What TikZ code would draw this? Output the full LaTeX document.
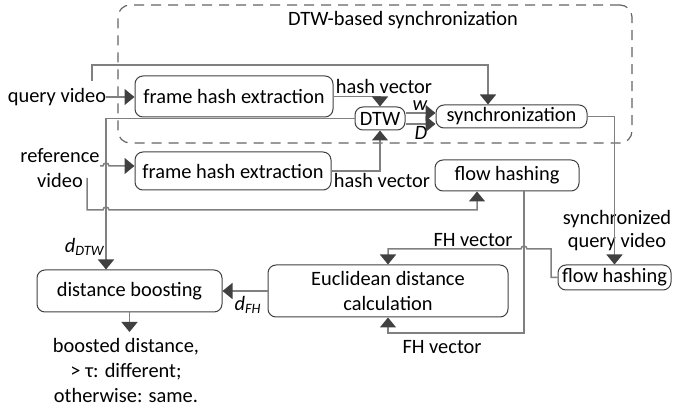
\documentclass[tikz,border=0pt]{standalone}
\usepackage{fontspec}
\setmainfont{Carlito}
\usetikzlibrary{arrows.meta}
\definecolor{linec}{RGB}{128,128,128}
\definecolor{tipc}{RGB}{64,64,64}
\definecolor{boxc}{RGB}{64,64,64}
\definecolor{dashc}{RGB}{100,100,100}
\begin{document}
\begin{tikzpicture}[x=0.5pt,y=0.5pt,
 font=\fontsize{10.2}{12.5}\selectfont,
 box/.style={draw=boxc,line width=0.5pt,rounded corners=4pt,inner sep=0pt,align=center},
 conn/.style={draw=linec,line width=0.75pt},
 arr/.style={conn,-{Triangle[width=8pt,length=5pt,color=tipc,fill=tipc]}},
 lab/.style={inner sep=0pt,align=center}]
\useasboundingbox (0,0) rectangle (676,-406);
% container
\node[draw=dashc,line width=0.6pt,dash pattern=on 5pt off 3.5pt,rounded corners=6pt,
      minimum width=257pt,minimum height=69pt,inner sep=0pt] (cont) at (375,-74) {};
\node[lab] (title) at (403,-20) {DTW-based synchronization};
% boxes
\node[box,minimum width=99pt,minimum height=20.5pt] (fh1) at (234,-96.5) {frame hash extraction};
\node[box,minimum width=98pt,minimum height=19pt] (fh2) at (233,-171) {frame hash extraction};
\node[box,minimum width=25pt,minimum height=11.5pt] (dtw) at (380,-118.5) {DTW};
\node[box,minimum width=75.5pt,minimum height=11.5pt] (sync) at (511.5,-116.5) {synchronization};
\node[box,minimum width=72pt,minimum height=15.5pt] (fl1) at (507,-175.5) {flow hashing};
\node[box,minimum width=56.5pt,minimum height=12.5pt] (fl2) at (614.5,-277.5) {flow hashing};
\node[box,minimum width=120pt,minimum height=26pt] (euc) at (388,-291) {Euclidean distance\\calculation};
\node[box,minimum width=92.5pt,minimum height=21pt] (boost) at (129.5,-291) {distance boosting};
% labels
\node[lab] (qv) at (57,-97) {query video};
\node[lab] (rv) at (60,-168) {reference\\video};
\node[lab] (hv1) at (384,-86) {hash vector};
\node[lab] (hv2) at (382,-180) {hash vector};
\node[lab] (lw) at (420,-106) {\textit{w}};
\node[lab] (lD) at (421,-133) {\textit{D}};
\node[lab,font=\fontsize{10.2}{11.5}\selectfont] (sq) at (617,-231) {synchronized\\query video};
\node[lab] (fhv1) at (473,-240) {FH vector};
\node[lab] (fhv2) at (442,-347) {FH vector};
\node[lab] (ldtw) at (85,-247) {\textit{d}\textsubscript{\textit{DTW}}};
\node[lab] (lfh) at (248,-305) {\textit{d}\textsubscript{\textit{FH}}};
\node[lab] (out) at (126,-370) {boosted distance,\\> τ: different;\\otherwise: same.};
% coordinates
\coordinate (qb) at (92,-81);
\coordinate (qtop) at (488,-65);
\coordinate (dx) at (106,-118.5);
\coordinate (ra) at (100,-166);
\coordinate (rb) at (87,-178);
\coordinate (rc) at (87,-210);
\coordinate (rd) at (477,-210);
\coordinate (fx) at (524,-191);
\coordinate (fy) at (524,-333);
\coordinate (gx) at (551,-277.5);
\coordinate (gy) at (551,-249);
\coordinate (ob) at (0,-332);
% connectors
\draw[arr] (qv.east) -- (qv.east -| fh1.west);
\draw[arr] (qb) |- (qtop) -- (qtop |- sync.north);
\draw[arr] (fh1.east) -| (dtw.north);
\draw[arr] (fh2.east) -| (dtw.south);
\draw[arr] ([yshift=2.75pt]dtw.east) -- ([yshift=2.75pt]dtw.east -| sync.west);
\draw[arr] ([yshift=-2.75pt]dtw.east) -- ([yshift=-2.75pt]dtw.east -| sync.west);
\draw[arr] (sync.east) -| (fl2.north);
\draw[arr] (dtw.west) -- (dx) -- (dx |- boost.north);
\draw[arr] (ra) -- (103,-166) arc[start angle=180,end angle=0,radius=1.5pt] -- (ra -| fh2.west);
\draw[arr] (rb) -- (rc) -- (103,-210) arc[start angle=180,end angle=0,radius=1.5pt] -- (rd) -- (rd |- fl1.south);
\draw[arr] (fx |- fl1.south) -- (fy) -| (euc.south);
\draw[arr] (fl2.west) -- (gx) -- (gy) -- (527,-249) arc[start angle=0,end angle=180,radius=1.5pt] -| (euc.north);
\draw[arr] (euc.west) -- (boost.east);
\draw[arr] (boost.south) -- (boost.south |- ob);
\end{tikzpicture}
\end{document}
